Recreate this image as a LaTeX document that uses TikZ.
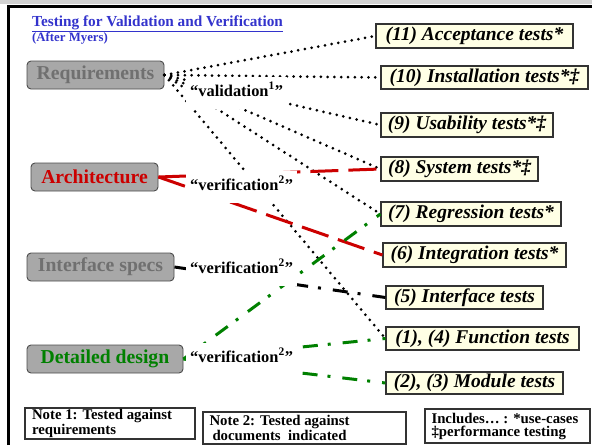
\documentclass[tikz,border=0pt]{standalone}
\usepackage{fontspec}
\setmainfont{Liberation Serif}
\definecolor{titleblue}{RGB}{51,51,204}
\definecolor{boxgray}{RGB}{168,168,168}
\definecolor{txtgray}{RGB}{112,112,112}
\definecolor{archred}{RGB}{204,0,0}
\definecolor{ddgreen}{RGB}{0,128,0}
\definecolor{testfill}{RGB}{255,255,229}
\begin{document}
\begin{tikzpicture}[x=1pt,y=-1pt,
  docbox/.style={draw=black!70, line width=0.9pt, fill=boxgray, rounded corners=4pt,
    inner sep=0pt, font=\fontsize{19.7}{22}\selectfont\bfseries},
  testbox/.style={draw=black!80, line width=1.2pt, fill=testfill, inner sep=0pt,
    font=\fontsize{19.5}{22}\selectfont\bfseries\itshape},
  notebox/.style={draw=black!80, line width=1.1pt, inner sep=0pt, align=left},
  lbl/.style={fill=white, inner xsep=4pt, inner ysep=0pt, minimum height=32pt,
    text height=12pt, text depth=6pt, anchor=west,
    font=\fontsize{16.4}{18}\selectfont\bfseries},
  dotline/.style={line width=3pt, line cap=round, dash pattern=on 0pt off 6.8pt},
  reddash/.style={draw=archred, line width=3pt, dash pattern=on 28pt off 10pt},
  dashdotline/.style={line width=3pt, dash pattern=on 15pt off 10pt on 3pt off 12pt}]
\useasboundingbox (0,0) rectangle (592,445);
% frame
\fill[gray!35] (0,0) rectangle (592,3.5);
\draw[line width=3pt] (8,445) -- (8,6) -- (592,6);
% title
\node[anchor=base west, inner sep=0pt, text=titleblue, font=\fontsize{15.3}{17}\selectfont\bfseries]
  (title) at (32,26) {\underline{Testing for Validation and Verification}};
\node[anchor=base west, inner sep=0pt, text=titleblue, font=\fontsize{12.8}{15}\selectfont\bfseries]
  (myers) at (32,41) {(After Myers)};
% left document boxes
\node[docbox, text=txtgray, minimum width=137pt, minimum height=28pt] (req) at (95.5,75) {Requirements};
\node[docbox, text=archred, minimum width=127pt, minimum height=28pt] (arch) at (94.5,177) {Architecture};
\node[docbox, text=txtgray, minimum width=147pt, minimum height=28pt] (ifs) at (100.5,267) {Interface specs};
\node[docbox, text=ddgreen, minimum width=156pt, minimum height=28pt] (dd) at (105,359) {Detailed design};
% test boxes
\node[testbox, minimum width=197pt, minimum height=24pt] (t11) at (474.5,36) {(11) Acceptance tests*};
\node[testbox, minimum width=207pt, minimum height=23pt] (t10) at (484.5,77.5) {(10) Installation tests*‡};
\node[testbox, minimum width=172pt, minimum height=24pt] (t9) at (467,125) {(9) Usability tests*‡};
\node[testbox, minimum width=157pt, minimum height=24pt] (t8) at (459.5,169) {(8) System tests*‡};
\node[testbox, minimum width=180pt, minimum height=24pt] (t7) at (471,214) {(7) Regression tests*};
\node[testbox, minimum width=183pt, minimum height=24pt] (t6) at (474.5,255) {(6) Integration tests*};
\node[testbox, minimum width=157pt, minimum height=23pt] (t5) at (464.5,297.5) {(5) Interface tests};
\node[testbox, minimum width=193pt, minimum height=23pt] (t14) at (482.5,338.5) {(1), (4) Function tests};
\node[testbox, minimum width=177pt, minimum height=22pt] (t23) at (474.5,383) {(2), (3) Module tests};
% connectors: validation (dotted)
\draw[dotline] (req.east) -- (t11.west);
\draw[dotline] (req.east) -- (t10.west);
\draw[dotline] (req.east) -- (t9.west);
\draw[dotline] (req.east) -- (t8.west);
\draw[dotline] (req.east) -- (t7.west);
\draw[dotline] (req.east) -- (t14.west);
% verification against architecture
\draw[reddash] (arch.east) -- (t8.west);
\draw[reddash] (arch.east) -- (t6.west);
% verification against interface specs
\draw[dashdotline, draw=black] (ifs.east) -- (t5.west);
% verification against detailed design
\draw[dashdotline, draw=ddgreen] (dd.east) -- (t7.west);
\draw[dashdotline, draw=ddgreen] (dd.east) -- (t14.west);
\draw[dashdotline, draw=ddgreen] (dd.east) -- (t23.west);
% labels
\node[lbl] (lval) at (186,93) {“validation\textsuperscript{1}”};
\node[lbl] (lver1) at (186,187) {“verification\textsuperscript{2}”};
\node[lbl] (lver2) at (186,270) {“verification\textsuperscript{2}”};
\node[lbl] (lver3) at (186,359) {“verification\textsuperscript{2}”};
% notes
\node[notebox, minimum width=170pt, minimum height=31pt] (n1) at (110,423.5)
  {\parbox{156pt}{\fontsize{14.8}{10.5}\selectfont\bfseries Note 1: Tested against\\requirements}};
\node[notebox, minimum width=203pt, minimum height=32pt] (n2) at (304.5,428)
  {\parbox{190pt}{\fontsize{14.8}{14.5}\selectfont\bfseries Note 2: Tested against\\\hspace*{3pt}documents\ \ indicated}};
\node[notebox, minimum width=165pt, minimum height=34pt] (inc) at (507.5,426)
  {\parbox{152pt}{\fontsize{14.8}{13}\selectfont\bfseries Includes… : *use-cases\\‡performance testing}};
\end{tikzpicture}
\end{document}
